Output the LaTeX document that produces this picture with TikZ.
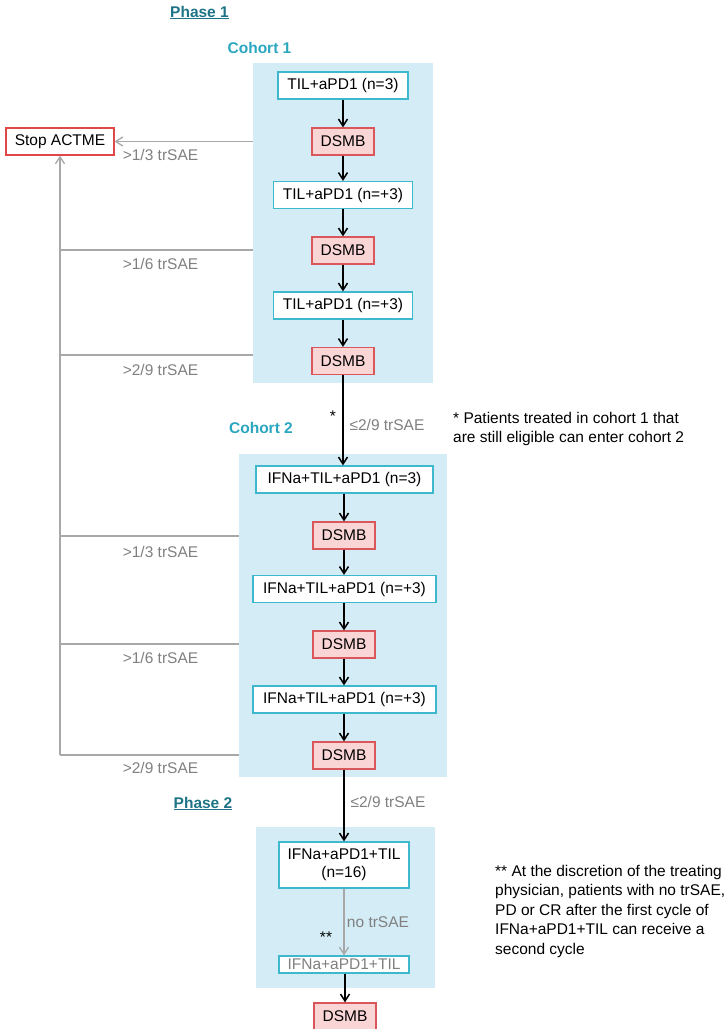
\documentclass[tikz,border=0pt]{standalone}
\usepackage{fontspec}
\setmainfont{Liberation Sans}
\usetikzlibrary{arrows.meta}
\definecolor{boxc}{HTML}{3DB8CC}
\definecolor{bgc}{HTML}{D4ECF5}
\definecolor{dsmbf}{HTML}{F9D5D5}
\definecolor{dsmbc}{HTML}{D9575A}
\definecolor{stopc}{HTML}{E04848}
\definecolor{graytxt}{HTML}{808080}
\definecolor{grayln}{HTML}{A8A8A8}
\definecolor{phasec}{HTML}{1E7486}
\definecolor{cohortc}{HTML}{2AA6C1}
\begin{document}
\begin{tikzpicture}[x=1pt,y=-1pt,
  font=\fontsize{15.5}{19.5}\selectfont,
  bgbox/.style={fill=bgc, inner sep=0pt},
  trt/.style={draw=boxc, fill=white, line width=1.2pt, minimum height=27pt, inner sep=0pt},
  dsmb/.style={draw=dsmbc, fill=dsmbf, line width=1.2pt, minimum width=62pt, minimum height=27pt, inner sep=0pt},
  stopbox/.style={draw=stopc, fill=white, line width=1.2pt, minimum width=108pt, minimum height=27pt, inner sep=0pt},
  lbl/.style={text=graytxt, inner sep=0pt},
  note/.style={inner sep=0pt, align=left, anchor=north west},
  phasettl/.style={text=phasec, font=\fontsize{15.5}{18}\selectfont\bfseries, inner sep=0pt},
  cohortttl/.style={text=cohortc, font=\fontsize{15.5}{18}\selectfont\bfseries, inner sep=0pt},
  flow/.style={line width=1.5pt, black, -{Straight Barb[length=7pt,width=9pt,line width=1.5pt]}},
  gflow/.style={line width=1.3pt, grayln, -{Straight Barb[length=7pt,width=9pt,line width=1.3pt]}},
  gline/.style={line width=1.3pt, grayln}
]
\useasboundingbox (0,0) rectangle (727,1029);

% background panels
\node[bgbox, minimum width=180pt, minimum height=320pt] (bg1) at (343,223) {};
\node[bgbox, minimum width=208pt, minimum height=323pt] (bg2) at (343,615.5) {};
\node[bgbox, minimum width=179pt, minimum height=161pt] (bg3) at (345.5,907.5) {};

% titles
\node[phasettl] (ph1) at (199.5,12.5) {\underline{Phase 1}};
\node[cohortttl] (co1) at (259.5,48) {Cohort 1};
\node[cohortttl] (co2) at (261,428) {Cohort 2};
\node[phasettl] (ph2) at (203,803.5) {\underline{Phase 2}};

% cohort 1
\node[trt, minimum width=130pt] (c1a) at (343,85.5) {TIL+aPD1 (n=3)};
\node[dsmb] (c1d1) at (343,141.5) {DSMB};
\node[trt, minimum width=139pt] (c1b) at (343,195) {TIL+aPD1 (n=+3)};
\node[dsmb] (c1d2) at (343,250.5) {DSMB};
\node[trt, minimum width=139pt] (c1c) at (343,305.5) {TIL+aPD1 (n=+3)};
\node[dsmb] (c1d3) at (343,361) {DSMB};

% cohort 2
\node[trt, minimum width=177pt] (c2a) at (344.5,479.5) {IFNa+TIL+aPD1 (n=3)};
\node[dsmb] (c2d1) at (344,535.5) {DSMB};
\node[trt, minimum width=183pt] (c2b) at (344.5,589) {IFNa+TIL+aPD1 (n=+3)};
\node[dsmb] (c2d2) at (344,644.5) {DSMB};
\node[trt, minimum width=183pt] (c2c) at (344.5,699.5) {IFNa+TIL+aPD1 (n=+3)};
\node[dsmb] (c2d3) at (344,755.5) {DSMB};

% phase 2
\node[trt, minimum width=130pt, minimum height=46pt, align=center, font=\fontsize{15.5}{18}\selectfont] (p2a) at (344,865) {IFNa+aPD1+TIL\\(n=16)};
\node[trt, minimum width=130pt, minimum height=17pt, text=graytxt] (p2b) at (344,964.5) {IFNa+aPD1+TIL};
\node[dsmb] (p2d) at (345,1016.5) {DSMB};

% stop
\node[stopbox] (stop) at (60,141.5) {Stop ACTME};

% main flow
\draw[flow] (c1a) -- (c1d1);
\draw[flow] (c1d1) -- (c1b);
\draw[flow] (c1b) -- (c1d2);
\draw[flow] (c1d2) -- (c1c);
\draw[flow] (c1c) -- (c1d3);
\draw[flow] (c1d3.south) -- (c1d3.south |- c2a.north);
\draw[flow] (c2a.south -| c2d1) -- (c2d1);
\draw[flow] (c2d1) -- (c2d1 |- c2b.north);
\draw[flow] (c2b.south -| c2d2) -- (c2d2);
\draw[flow] (c2d2) -- (c2d2 |- c2c.north);
\draw[flow] (c2c.south -| c2d3) -- (c2d3);
\draw[flow] (c2d3) -- (c2d3 |- p2a.north);
\draw[gflow] (p2a) -- (p2b);
\draw[flow] (p2b.south -| p2d) -- (p2d);

% labels on main flow
\node (star1) at (333,416) {*};
\node[lbl] (le1) at (387,425) {≤2/9 trSAE};
\node[lbl] (le2) at (388,802) {≤2/9 trSAE};
\node[lbl] (nt) at (378,922) {no trSAE};
\node (star2) at (326,937) {**};

% stop lines
\coordinate (k1) at (60,250);
\coordinate (k2) at (60,355);
\coordinate (k3) at (60,536);
\coordinate (k4) at (60,644);
\coordinate (k5) at (60,755);
\draw[gflow] (bg1.west |- stop) -- (stop.east);
\draw[gline] (bg1.west |- k1) -- (k1);
\draw[gline] (bg1.west |- k2) -- (k2);
\draw[gline] (bg2.west |- k3) -- (k3);
\draw[gline] (bg2.west |- k4) -- (k4);
\draw[gline] (bg2.west |- k5) -- (k5);
\draw[gflow] (k5) -- (stop.south);

\node[lbl] (l1) at (160.5,155) {>1/3 trSAE};
\node[lbl] (l2) at (160.5,264) {>1/6 trSAE};
\node[lbl] (l3) at (160.5,370) {>2/9 trSAE};
\node[lbl] (l4) at (160.5,552) {>1/3 trSAE};
\node[lbl] (l5) at (160.5,658) {>1/6 trSAE};
\node[lbl] (l6) at (160.5,768) {>2/9 trSAE};

% footnotes
\node[note] (fn1) at (453,412) {* Patients treated in cohort 1 that\\are still eligible can enter cohort 2};
\node[note] (fn2) at (495,865) {** At the discretion of the treating\\physician, patients with no trSAE,\\PD or CR after the first cycle of\\IFNa+aPD1+TIL can receive a\\second cycle};
\end{tikzpicture}
\end{document}
